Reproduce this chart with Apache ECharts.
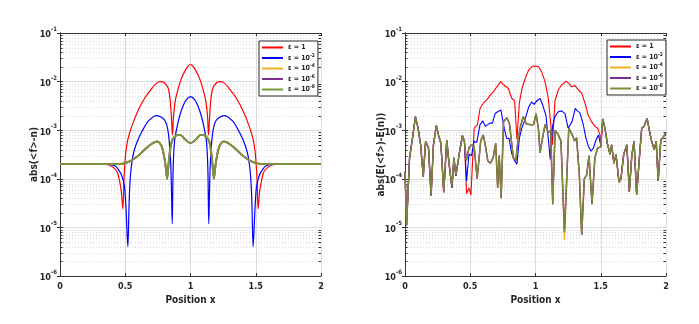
<!DOCTYPE html>
<html><head><meta charset="utf-8">
<script src="https://cdn.jsdelivr.net/npm/echarts/dist/echarts.min.js"></script>
<style>html,body{margin:0;padding:0;background:#fff}#c{width:699px;height:324px}</style>
</head><body><div id="c"></div>
<script>
// ---------- tick labels ----------
const xTicks = [0, 0.5, 1, 1.5, 2];
const decades = [1e-6, 1e-5, 1e-4, 1e-3, 1e-2];
const minorFactors = [2, 3, 4, 5, 6, 7, 8, 9];
const legendKeys = ['e0', 'e2', 'e4', 'e6', 'e8'];
const legendLabels = ['1', '-2', '-4', '-6', '-8'];

// ---------- left panel: abs(<f>-n) ----------
const xLRed = [0,0.2,0.35,0.38,0.41,0.44,0.46,0.47,0.482,0.49,0.497,0.505,0.52,0.55,0.6,0.65,0.7,0.74,0.77,0.8,0.83,0.845,0.855,0.862,0.87,0.885,0.9,0.93,0.96,0.98,1.0,1.02,1.04,1.07,1.1,1.115,1.13,1.138,1.145,1.155,1.17,1.2,1.23,1.26,1.3,1.35,1.4,1.45,1.48,1.495,1.503,1.51,1.518,1.53,1.54,1.56,1.59,1.62,1.65,1.8,2];
const yLRed = [2e-4,2e-4,1.98e-4,1.9e-4,1.7e-4,1.35e-4,8e-5,5.5e-5,2.4e-5,1e-4,2e-4,3.6e-4,6.5e-4,1.2e-3,2.6e-3,4.6e-3,7e-3,9.3e-3,1e-2,9.5e-3,7.2e-3,4e-3,1.6e-3,8e-4,2e-3,4.3e-3,6.3e-3,1.15e-2,1.7e-2,2.05e-2,2.25e-2,2.05e-2,1.7e-2,1.15e-2,6.3e-3,4.3e-3,2e-3,8e-4,1.6e-3,4e-3,7.2e-3,9.5e-3,1e-2,9.3e-3,7e-3,4.6e-3,2.6e-3,1.2e-3,6.5e-4,3.6e-4,2e-4,1e-4,2.4e-5,5.5e-5,8e-5,1.35e-4,1.7e-4,1.9e-4,1.98e-4,2e-4,2e-4];

const xLBlue = [0,0.2,0.38,0.42,0.448,0.474,0.495,0.507,0.52,0.53,0.54,0.556,0.574,0.6,0.627,0.678,0.742,0.806,0.832,0.848,0.855,0.86,0.867,0.877,0.895,0.92,0.946,0.97,1.0,1.03,1.054,1.08,1.105,1.123,1.133,1.14,1.145,1.152,1.168,1.194,1.258,1.322,1.373,1.4,1.426,1.444,1.46,1.47,1.48,1.493,1.505,1.526,1.552,1.58,1.62,1.8,2];
const yLBlue = [2e-4,2e-4,1.98e-4,1.85e-4,1.55e-4,1.15e-4,6.6e-5,2.1e-5,4e-6,3.5e-5,1.2e-4,2.7e-4,4.3e-4,6.6e-4,9.3e-4,1.55e-3,2e-3,1.55e-3,8e-4,2.2e-4,4.7e-5,1.2e-5,1.6e-4,5.6e-4,1.1e-3,2.1e-3,3.3e-3,4.3e-3,4.9e-3,4.3e-3,3.3e-3,2.1e-3,1.1e-3,5.6e-4,1.6e-4,1.2e-5,4.7e-5,2.2e-4,8e-4,1.55e-3,2e-3,1.55e-3,9.3e-4,6.6e-4,4.3e-4,2.7e-4,1.2e-4,3.5e-5,4e-6,2.1e-5,6.6e-5,1.15e-4,1.55e-4,1.85e-4,1.98e-4,2e-4,2e-4];

// eps = 1e-4, 1e-6, 1e-8 coincide on the left panel
const xLSmall = [0,0.2,0.4,0.45,0.5,0.55,0.6,0.65,0.7,0.745,0.78,0.805,0.821,0.836,0.857,0.887,0.921,0.96,1.0,1.04,1.079,1.113,1.143,1.164,1.179,1.195,1.22,1.255,1.3,1.35,1.4,1.45,1.5,1.55,1.6,1.8,2];
const yLSmall = [2e-4,2e-4,2e-4,2.02e-4,2.1e-4,2.4e-4,3e-4,4e-4,5.2e-4,5.9e-4,4.6e-4,2.2e-4,1e-4,2.7e-4,5.9e-4,7.7e-4,8e-4,6.4e-4,5.4e-4,6.4e-4,8e-4,7.7e-4,5.9e-4,2.7e-4,1e-4,2.2e-4,4.6e-4,5.9e-4,5.2e-4,4e-4,3e-4,2.4e-4,2.1e-4,2.02e-4,2e-4,2e-4,2e-4];

// ---------- right panel: abs(E(<f>)-E(n)) ----------
const xRSmall = [0,0.012,0.035,0.058,0.08,0.1,0.12,0.14,0.158,0.18,0.2,0.218,0.24,0.256,0.275,0.297,0.32,0.338,0.36,0.375,0.39,0.415,0.44,0.455,0.47,0.49,0.51,0.53,0.553,0.58,0.6,0.615,0.635,0.655,0.675,0.695,0.71,0.722,0.737,0.755,0.78,0.8,0.83,0.85,0.865,0.885,0.906,0.93,0.96,0.985,1.004,1.022,1.035,1.05,1.073,1.098,1.116,1.132,1.15,1.175,1.195,1.222,1.255,1.277,1.3,1.315,1.336,1.354,1.374,1.392,1.41,1.433,1.455,1.476,1.5,1.515,1.532,1.55,1.571,1.583,1.601,1.617,1.64,1.655,1.676,1.7,1.719,1.738,1.755,1.775,1.796,1.814,1.832,1.855,1.872,1.89,1.91,1.925,1.94,1.96,1.98,2.0];
const yR8 = [1.4e-4,1.1e-5,2.7e-4,7e-4,1.9e-3,1.1e-3,5e-4,1.1e-4,5.9e-4,4.3e-4,4.5e-5,5e-4,1.25e-3,8e-4,5.4e-4,5.3e-5,6.3e-4,2e-4,7e-5,2.7e-4,1.2e-4,3.2e-4,7.8e-4,5.9e-4,2.4e-4,4.3e-4,5e-4,4.6e-4,1e-4,6e-4,8e-4,5e-4,2.3e-4,2.1e-4,2.7e-4,5.4e-4,6.5e-5,3e-4,4e-5,1.5e-3,1.8e-3,1.4e-3,2.7e-4,2.4e-4,6e-4,1.2e-3,1.9e-3,1.35e-3,1.3e-3,1.3e-3,2.2e-3,1.1e-3,3.4e-4,6e-4,1.3e-3,9e-4,1e-3,3e-5,1e-3,8e-4,6e-4,8e-6,1.1e-3,8.5e-4,6e-4,7e-4,1.2e-4,7e-6,1e-4,1.2e-4,3e-4,3e-5,2.7e-4,4.3e-4,4.5e-4,1.7e-3,1.1e-3,5.4e-4,3.2e-4,5e-4,2.1e-4,3.2e-4,8.5e-5,1e-4,3.2e-4,5e-4,5.5e-5,3e-4,6e-4,4.7e-5,2.7e-4,1.1e-3,1.2e-3,1.75e-3,1e-3,5.9e-4,4e-4,5.9e-4,9e-5,6.3e-4,7.2e-4,9e-4];
const yR6 = [1.4e-4,1.1e-5,2.7e-4,7e-4,1.9e-3,1.1e-3,5e-4,1.1e-4,5.9e-4,4.3e-4,4.5e-5,5e-4,1.25e-3,8e-4,5.4e-4,5.3e-5,6.3e-4,2e-4,6.6e-5,2.7e-4,1.15e-4,3.2e-4,7.8e-4,5.9e-4,2.4e-4,4.3e-4,5e-4,4.6e-4,1e-4,6e-4,8e-4,5e-4,2.3e-4,2.1e-4,2.7e-4,5.4e-4,6.5e-5,3e-4,4e-5,1.5e-3,1.8e-3,1.4e-3,2.7e-4,2.4e-4,6e-4,1.2e-3,1.9e-3,1.35e-3,1.3e-3,1.3e-3,2.2e-3,1.1e-3,3.4e-4,6e-4,1.3e-3,9e-4,1e-3,3e-5,1e-3,8e-4,6e-4,8e-6,1.1e-3,8.5e-4,6e-4,7e-4,1.2e-4,7e-6,1e-4,1.2e-4,3e-4,3e-5,2.7e-4,4.3e-4,4.5e-4,1.7e-3,1.1e-3,5.4e-4,3.2e-4,5e-4,2.1e-4,3.2e-4,8.5e-5,1e-4,3.2e-4,5e-4,5.5e-5,3e-4,6e-4,4.7e-5,2.7e-4,1.1e-3,1.2e-3,1.75e-3,1e-3,5.9e-4,4e-4,5.9e-4,9e-5,6.3e-4,7.2e-4,9e-4];
const yR4 = [1.4e-4,1.1e-5,2.7e-4,7e-4,1.9e-3,1.1e-3,5e-4,1.1e-4,5.9e-4,4.3e-4,4.5e-5,5e-4,1.25e-3,8e-4,5.4e-4,5.3e-5,6.3e-4,2e-4,7e-5,2.7e-4,1.2e-4,3.2e-4,7.8e-4,5.9e-4,2.4e-4,4.3e-4,5e-4,4.6e-4,1e-4,6e-4,8e-4,5e-4,2.3e-4,2.1e-4,2.7e-4,5.4e-4,6.5e-5,3e-4,4e-5,1.5e-3,1.8e-3,1.4e-3,2.7e-4,2.4e-4,6e-4,1.2e-3,1.9e-3,1.35e-3,1.3e-3,1.3e-3,2.2e-3,1.1e-3,3.4e-4,6e-4,1.3e-3,9e-4,1e-3,3e-5,1e-3,8e-4,6e-4,5.5e-6,1.1e-3,8.5e-4,6e-4,7e-4,1.2e-4,7e-6,1e-4,1.2e-4,3e-4,3e-5,2.7e-4,4.3e-4,4.5e-4,1.7e-3,1.1e-3,5.4e-4,3.2e-4,5e-4,2.1e-4,3.2e-4,8.5e-5,1e-4,3.2e-4,5e-4,5.5e-5,3e-4,6e-4,4.7e-5,2.7e-4,1.1e-3,1.2e-3,1.75e-3,1e-3,5.9e-4,4e-4,5.9e-4,9e-5,6.3e-4,7.2e-4,9e-4];

// eps = 1 and eps = 1e-2 depart from the small-eps curve in the middle
const xR1Mid = [0.455,0.472,0.49,0.505,0.52,0.53,0.555,0.575,0.6,0.63,0.657,0.68,0.707,0.733,0.758,0.792,0.817,0.84,0.858,0.876,0.896,0.922,0.948,0.975,0.996,1.022,1.047,1.073,1.098,1.115,1.13,1.149,1.175,1.2,1.235,1.259,1.277,1.302,1.328,1.354,1.379,1.405,1.43,1.455,1.476,1.494];
const yR1Mid = [5.9e-4,5e-5,6.5e-5,4.6e-5,4.5e-5,1.1e-3,1.3e-3,2.8e-3,3.6e-3,4.3e-3,5.4e-3,6.3e-3,8e-3,1e-2,8.5e-3,7.2e-3,4.6e-3,4e-3,6.5e-4,3.6e-3,7.2e-3,1.17e-2,1.74e-2,2.05e-2,2.1e-2,2.05e-2,1.6e-2,1e-2,4.6e-3,1.5e-3,5e-4,4e-3,6.8e-3,8.5e-3,1.02e-2,9e-3,7.8e-3,8.3e-3,6.8e-3,5.8e-3,3.6e-3,2e-3,1.5e-3,1.2e-3,1.1e-3,8e-4];
const xR2Mid = [0.455,0.472,0.49,0.51,0.53,0.55,0.575,0.597,0.615,0.63,0.65,0.67,0.69,0.71,0.735,0.76,0.779,0.797,0.818,0.838,0.858,0.876,0.896,0.922,0.948,0.97,0.99,1.01,1.035,1.055,1.08,1.1,1.113,1.13,1.149,1.175,1.2,1.226,1.25,1.28,1.305,1.32,1.34,1.366,1.387,1.405,1.425,1.444,1.464,1.482,1.5];
const yR2Mid = [5.9e-4,9e-5,3.2e-4,3e-4,5.9e-4,5.6e-4,1.3e-3,1.55e-3,1.2e-3,1.1e-3,1.4e-3,1.4e-3,2.2e-3,2.4e-3,2.6e-3,1.1e-3,6.8e-4,6.8e-4,3.3e-4,2.4e-4,2e-4,6.8e-4,1.1e-3,1.75e-3,3e-3,3.8e-3,3.4e-3,4e-3,4.5e-3,3.3e-3,2e-3,6e-4,2.5e-4,1.2e-3,1.9e-3,2.4e-3,2.5e-3,2.2e-3,1.1e-3,1.5e-3,2.8e-3,2.5e-3,2.3e-3,1.3e-3,6.8e-4,4.7e-4,3.7e-4,4.3e-4,6.3e-4,8e-4,5e-4];

// ---------- build ----------
const zip = (xs, ys) => xs.map((x, i) => [x, ys[i]]);
const withOuter = (xMid, yMid) => {
  const lo = xMid[0], hi = xMid[xMid.length - 1];
  const pre = zip(xRSmall, yR6).filter(p => p[0] < lo);
  const post = zip(xRSmall, yR6).filter(p => p[0] > hi);
  return pre.concat(zip(xMid, yMid), post);
};

const FONT = "'Liberation Sans Narrow','DejaVu Sans Condensed','Liberation Sans',Arial,sans-serif";
const TXT = '#262626';
const COLORS = {e0: '#ff0000', e2: '#0000ff', e4: '#edb120', e6: '#7e2f8e', e8: '#77ac30'};

const minorData = [];
decades.forEach(d => minorFactors.forEach(f => minorData.push([0, d * f])));

function renderMinor(params, api) {
  const cs = params.coordSys;
  const y = Math.round(api.coord([0, api.value(1)])[1]) + 0.5;
  return {type: 'group', children: [
    {type: 'line', shape: {x1: cs.x, y1: y, x2: cs.x + cs.width, y2: y}, style: {stroke: '#d6d6d6', lineWidth: 1, lineDash: [1, 2]}},
    {type: 'line', shape: {x1: cs.x, y1: y, x2: cs.x + 2.5, y2: y}, style: {stroke: '#333', lineWidth: 1}},
    {type: 'line', shape: {x1: cs.x + cs.width - 2.5, y1: y, x2: cs.x + cs.width, y2: y}, style: {stroke: '#333', lineWidth: 1}}
  ]};
}

const supLabel = v => '{b|10}{s|' + Math.round(Math.log10(v)) + '}';

function axesFor(g, yName, nameGap) {
  const xa = [
    {gridIndex: g, type: 'value', min: 0, max: 2, interval: 0.5, position: 'bottom',
     axisLine: {show: true, onZero: false, lineStyle: {color: '#333'}},
     axisTick: {show: true, inside: true, length: 3, lineStyle: {color: '#333'}},
     axisLabel: {margin: 6, fontSize: 9, fontWeight: 'bold', color: TXT, fontFamily: FONT,
                 formatter: v => (xTicks.indexOf(v) >= 0 ? String(v) : '')},
     splitLine: {show: true, lineStyle: {color: '#dcdcdc', width: 1}},
     name: 'Position x', nameLocation: 'middle', nameGap: 19, nameMoveOverlap: false,
     nameTextStyle: {fontSize: 10, fontWeight: 'bold', color: TXT, fontFamily: FONT}},
    {gridIndex: g, type: 'value', min: 0, max: 2, interval: 0.5, position: 'top',
     axisLine: {show: true, onZero: false, lineStyle: {color: '#333'}},
     axisTick: {show: true, inside: true, length: 3, lineStyle: {color: '#333'}},
     axisLabel: {show: false}, splitLine: {show: false}}
  ];
  const ya = [
    {gridIndex: g, type: 'log', logBase: 10, min: 1e-6, max: 1e-1, position: 'left',
     axisLine: {show: true, lineStyle: {color: '#333'}},
     axisTick: {show: true, inside: true, length: 3, lineStyle: {color: '#333'}},
     axisLabel: {margin: 3, formatter: supLabel,
       rich: {b: {fontSize: 9, fontWeight: 'bold', color: TXT, fontFamily: FONT, padding: [4, 0, 0, 0]},
              s: {fontSize: 6, fontWeight: 'bold', color: TXT, fontFamily: FONT, verticalAlign: 'top'}}},
     splitLine: {show: true, lineStyle: {color: '#dcdcdc', width: 1}},
     name: yName, nameLocation: 'middle', nameGap: nameGap, nameRotate: 90, nameMoveOverlap: false,
     nameTextStyle: {fontSize: 10, fontWeight: 'bold', color: TXT, fontFamily: FONT}},
    {gridIndex: g, type: 'log', logBase: 10, min: 1e-6, max: 1e-1, position: 'right',
     axisLine: {show: true, lineStyle: {color: '#333'}},
     axisTick: {show: true, inside: true, length: 3, lineStyle: {color: '#333'}},
     axisLabel: {show: false}, splitLine: {show: false}}
  ];
  return {xa, ya};
}

const A0 = axesFor(0, 'abs(<f>-n)', 21);
const A1 = axesFor(1, 'abs(E(<f>)-E(n))', 19);

function line(name, data, xi, yi, color, width, z, smooth) {
  return {type: 'line', name, data, xAxisIndex: xi, yAxisIndex: yi, showSymbol: false, symbol: 'none',
          smooth: smooth || false, lineStyle: {color, width}, itemStyle: {color}, z, silent: true};
}

const legendFmt = n => {
  const k = legendLabels[legendKeys.indexOf(n.slice(2))];
  return k === '1' ? '{t|ε = 1}' : '{t|ε = 10}{s|' + k + '}';
};
function legendFor(prefix, left, top) {
  return {orient: 'vertical', left, top, padding: [3, 3, 3, 3], itemGap: 2, itemWidth: 21, itemHeight: 2,
    icon: 'rect', selectedMode: false, borderColor: '#262626', borderWidth: 1, backgroundColor: '#fff',
    data: legendKeys.map(e => prefix + e), formatter: legendFmt, z: 10,
    textStyle: {rich: {t: {fontSize: 7, fontWeight: 'bold', color: TXT, fontFamily: FONT, lineHeight: 10},
                       s: {fontSize: 5, fontWeight: 'bold', color: TXT, fontFamily: FONT, verticalAlign: 'top'}}}};
}

const option = {
  animation: false,
  backgroundColor: '#fff',
  grid: [
    {left: 60, top: 33, width: 261, height: 243, show: false},
    {left: 405, top: 33, width: 261, height: 243, show: false}
  ],
  xAxis: A0.xa.concat(A1.xa),
  yAxis: A0.ya.concat(A1.ya),
  legend: [legendFor('L_', 259, 41), legendFor('R_', 607, 40)],
  series: [
    {type: 'custom', xAxisIndex: 0, yAxisIndex: 0, data: minorData, renderItem: renderMinor, silent: true, z: 1, encode: {x: 0, y: 1}},
    {type: 'custom', xAxisIndex: 2, yAxisIndex: 2, data: minorData, renderItem: renderMinor, silent: true, z: 1, encode: {x: 0, y: 1}},
    line('L_e0', zip(xLRed, yLRed), 0, 0, COLORS.e0, 1.2, 3, 0.3),
    line('L_e2', zip(xLBlue, yLBlue), 0, 0, COLORS.e2, 1.2, 3, 0.3),
    line('L_e4', zip(xLSmall, yLSmall), 0, 0, COLORS.e4, 1.8, 3, 0.3),
    line('L_e6', zip(xLSmall, yLSmall), 0, 0, COLORS.e6, 1.8, 3, 0.3),
    line('L_e8', zip(xLSmall, yLSmall), 0, 0, '#7b9a3a', 1.8, 3, 0.3),
    line('R_e0', withOuter(xR1Mid, yR1Mid), 2, 2, COLORS.e0, 1.1, 3),
    line('R_e2', withOuter(xR2Mid, yR2Mid), 2, 2, COLORS.e2, 1.1, 3),
    line('R_e4', zip(xRSmall, yR4), 2, 2, COLORS.e4, 1.3, 3),
    line('R_e6', zip(xRSmall, yR6), 2, 2, COLORS.e6, 1.5, 3),
    line('R_e8', zip(xRSmall, yR8), 2, 2, '#7b8e35', 1.2, 3)
  ]
};

const chart = echarts.init(document.getElementById('c'), null, {renderer: 'canvas'});
chart.setOption(option);
</script>
</body></html>
